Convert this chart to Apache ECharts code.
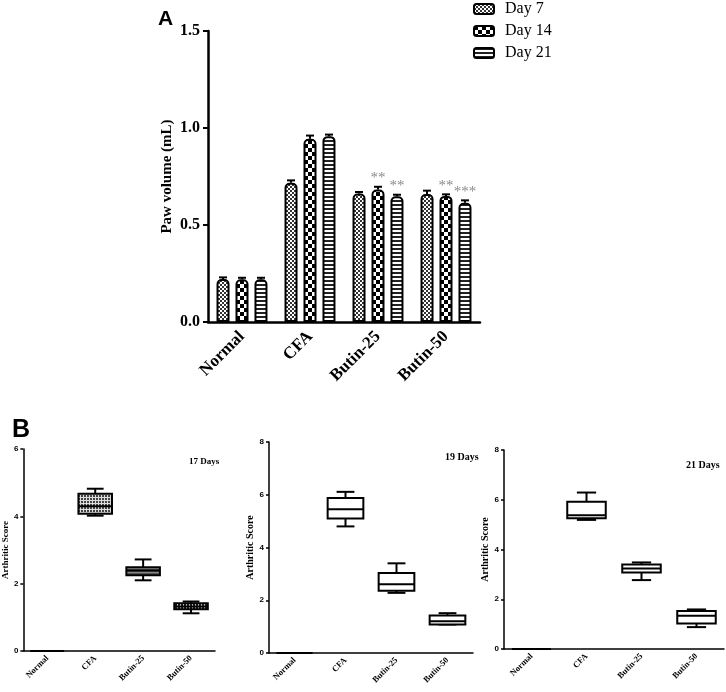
<!DOCTYPE html>
<html>
<head>
<meta charset="utf-8">
<script src="https://cdn.jsdelivr.net/npm/echarts@6/dist/echarts.min.js"></script>
<style>
  html, body { margin: 0; padding: 0; background: #fff; }
  #chart { width: 726px; height: 692px; }
</style>
</head>
<body>
<div id="chart"></div>
<script>
// panel A: paw volume, mean and error per group
var groups = ['Normal', 'CFA', 'Butin-25', 'Butin-50'];
var days = ['Day 7', 'Day 14', 'Day 21'];
var day7 = [0.222, 0.718, 0.662, 0.660];
var day7Err = [0.008, 0.012, 0.008, 0.017];
var day14 = [0.220, 0.945, 0.683, 0.650];
var day14Err = [0.008, 0.016, 0.014, 0.008];
var day21 = [0.220, 0.958, 0.648, 0.615];
var day21Err = [0.008, 0.008, 0.008, 0.012];
var day7Sig = ['', '', '', ''];
var day14Sig = ['', '', '**', '**'];
var day21Sig = ['', '', '**', '***'];

// panel B: arthritic score boxes [min, q1, median, q3, max]
var score17 = [[0, 0, 0, 0, 0], [4.02, 4.08, 4.30, 4.67, 4.82], [2.10, 2.25, 2.39, 2.49, 2.72], [1.12, 1.24, 1.32, 1.42, 1.47]];
var score19 = [[0, 0, 0, 0, 0], [4.80, 5.10, 5.45, 5.88, 6.11], [2.28, 2.36, 2.61, 3.03, 3.40], [1.08, 1.08, 1.20, 1.42, 1.51]];
var score21 = [[0, 0, 0, 0, 0], [5.19, 5.26, 5.38, 5.92, 6.29], [2.77, 3.08, 3.24, 3.40, 3.48], [0.88, 1.03, 1.34, 1.53, 1.59]];
var panelTitles = ['17 Days', '19 Days', '21 Days'];

var serif = '"Liberation Serif", "Times New Roman", serif';
var sans = '"Liberation Sans", Arial, sans-serif';

function pattern(size, draw, bg) {
    var c = document.createElement('canvas');
    c.width = size; c.height = size;
    var g = c.getContext('2d');
    g.fillStyle = bg || '#fff';
    g.fillRect(0, 0, size, size);
    draw(g);
    return { image: c, repeat: 'repeat' };
}
var fineChecker = pattern(4, function (g) { g.fillStyle = '#333'; g.fillRect(0, 0, 2, 2); g.fillRect(2, 2, 2, 2); });
var bigChecker = pattern(8, function (g) { g.fillStyle = '#000'; g.fillRect(0, 0, 4, 4); g.fillRect(4, 4, 4, 4); });
var hStripes = pattern(4, function (g) { g.fillStyle = '#222'; g.fillRect(0, 0, 4, 2); });
var dotFill = pattern(3, function (g) { g.fillStyle = '#444'; g.fillRect(0, 0, 2, 2); }, '#ddd');
var darkStripes = pattern(4, function (g) { g.fillStyle = '#888'; g.fillRect(0, 0, 4, 1); }, '#555');
var vTicks = pattern(3, function (g) { g.fillStyle = '#eee'; g.fillRect(0, 1, 1, 2); }, '#222');

function barSeries(name, vals, fill) {
    return {
        type: 'bar', name: name, xAxisIndex: 0, yAxisIndex: 0, data: vals,
        barWidth: 13, barGap: '46%',
        itemStyle: { color: fill, borderColor: '#000', borderWidth: 2, borderRadius: [4, 4, 0, 0] }
    };
}

function errSeries(vals, errs, sigs, slot) {
    return {
        type: 'custom', xAxisIndex: 0, yAxisIndex: 0, silent: true, z: 5,
        data: vals.map(function (v, i) { return [i, v, errs[i]]; }),
        renderItem: function (params, api) {
            var i = api.value(0), v = api.value(1), e = api.value(2);
            var base = api.coord([i, v]);
            var top = api.coord([i, v + e]);
            var x = base[0] + (slot - 1) * 19;
            var kids = [
                { type: 'line', shape: { x1: x, y1: base[1], x2: x, y2: top[1] }, style: { stroke: '#000', lineWidth: 2 } },
                { type: 'line', shape: { x1: x - 4, y1: top[1], x2: x + 4, y2: top[1] }, style: { stroke: '#000', lineWidth: 2 } }
            ];
            var s = sigs[params.dataIndex];
            if (s) {
                kids.push({ type: 'text', x: x, y: top[1] - 1,
                    style: { text: s, fill: '#8a8a8a', font: '15px ' + serif, align: 'center', verticalAlign: 'bottom' } });
            }
            return { type: 'group', children: kids };
        }
    };
}

function boxSeries(idx, rows, fills) {
    return {
        type: 'custom', xAxisIndex: idx, yAxisIndex: idx, silent: true,
        data: rows.map(function (r, i) { return [i].concat(r); }),
        encode: { x: 0, y: [1, 2, 3, 4, 5] },
        renderItem: function (params, api) {
            var i = api.value(0);
            var lo = api.coord([i, api.value(1)]);
            var q1 = api.coord([i, api.value(2)]);
            var md = api.coord([i, api.value(3)]);
            var q3 = api.coord([i, api.value(4)]);
            var hi = api.coord([i, api.value(5)]);
            var band = api.size([1, 0])[0];
            var w = band * 0.7, x = lo[0], c = w / 4;
            var st = { stroke: '#000', lineWidth: 2 };
            return { type: 'group', children: [
                { type: 'line', shape: { x1: x, y1: hi[1], x2: x, y2: q3[1] }, style: st },
                { type: 'line', shape: { x1: x, y1: lo[1], x2: x, y2: q1[1] }, style: st },
                { type: 'line', shape: { x1: x - c, y1: hi[1], x2: x + c, y2: hi[1] }, style: st },
                { type: 'line', shape: { x1: x - c, y1: lo[1], x2: x + c, y2: lo[1] }, style: st },
                { type: 'rect', shape: { x: x - w / 2, y: q3[1], width: w, height: q1[1] - q3[1] },
                  style: { fill: fills ? fills[params.dataIndex] : '#fff', stroke: '#000', lineWidth: 2 } },
                { type: 'line', shape: { x1: x - w / 2, y1: md[1], x2: x + w / 2, y2: md[1] }, style: st }
            ] };
        }
    };
}

var chart = echarts.init(document.getElementById('chart'), null, { renderer: 'canvas' });

var bGrids = [
    { left: 21, top: 449, width: 194, height: 202, max: 6, nameGap: 10, nameSize: 9 },
    { left: 269, top: 442, width: 204, height: 211, max: 8, nameGap: 12, nameSize: 10 },
    { left: 504, top: 450, width: 220, height: 199, max: 8, nameGap: 12, nameSize: 10 }
];

var grids = [{ left: 208, top: 31, width: 272, height: 291 }];
var xAxes = [{
    type: 'category', gridIndex: 0, data: groups,
    axisLine: { lineStyle: { color: '#000', width: 2.5 } },
    axisTick: { alignWithLabel: true, length: 5, lineStyle: { width: 2, color: '#000' } },
    axisLabel: { rotate: 45, margin: 12, color: '#000', fontFamily: serif, fontWeight: 'bold', fontSize: 17 }
}];
var yAxes = [{
    type: 'value', gridIndex: 0, min: 0, max: 1.5, interval: 0.5,
    name: 'Paw volume (mL)', nameLocation: 'middle', nameGap: 33,
    nameTextStyle: { color: '#000', fontFamily: serif, fontWeight: 'bold', fontSize: 15 },
    splitLine: { show: false },
    axisLine: { show: true, lineStyle: { color: '#000', width: 2.5 } },
    axisTick: { show: true, length: 5, lineStyle: { width: 2, color: '#000' } },
    axisLabel: { margin: 8, color: '#000', fontFamily: serif, fontWeight: 'bold', fontSize: 16,
        formatter: function (v) { return v.toFixed(1); } }
}];
bGrids.forEach(function (g, k) {
    grids.push({ left: g.left, top: g.top, width: g.width, height: g.height });
    xAxes.push({
        type: 'category', gridIndex: k + 1, data: groups,
        axisLine: { lineStyle: { color: '#000', width: 1.5 } },
        axisTick: { alignWithLabel: true, length: 3, lineStyle: { width: 1.5, color: '#000' } },
        axisLabel: { rotate: 45, margin: 6, color: '#000', fontFamily: serif, fontWeight: 'bold', fontSize: 8.5 }
    });
    yAxes.push({
        type: 'value', gridIndex: k + 1, min: 0, max: g.max, interval: 2,
        name: 'Arthritic Score', nameLocation: 'middle', nameGap: g.nameGap,
        nameTextStyle: { color: '#000', fontFamily: serif, fontWeight: 'bold', fontSize: g.nameSize },
        splitLine: { show: false },
        axisLine: { show: true, lineStyle: { color: '#000', width: 1.5 } },
        axisTick: { show: true, length: 3, lineStyle: { width: 1.5, color: '#000' } },
        axisLabel: { margin: 5, color: '#000', fontFamily: sans, fontWeight: 'bold', fontSize: 8 }
    });
});

var option = {
    animation: false,
    backgroundColor: '#fff',
    title: [
        { text: 'A', left: 153, top: 4, textStyle: { fontFamily: sans, fontWeight: 'bold', fontSize: 21, color: '#000' } },
        { text: 'B', left: 7, top: 413, textStyle: { fontFamily: sans, fontWeight: 'bold', fontSize: 25, color: '#000' } },
        { text: panelTitles[0], left: 184, top: 452, textStyle: { fontFamily: serif, fontWeight: 'bold', fontSize: 9, color: '#000' } },
        { text: panelTitles[1], left: 440, top: 447, textStyle: { fontFamily: serif, fontWeight: 'bold', fontSize: 10, color: '#000' } },
        { text: panelTitles[2], left: 681, top: 455, textStyle: { fontFamily: serif, fontWeight: 'bold', fontSize: 10, color: '#000' } }
    ],
    legend: {
        orient: 'vertical', left: 473, top: 1, padding: 0, itemWidth: 20, itemHeight: 10, itemGap: 6,
        data: days, selectedMode: false,
        textStyle: { fontFamily: serif, fontSize: 16, color: '#000', padding: [0, 0, 0, 6] }
    },
    grid: grids,
    xAxis: xAxes,
    yAxis: yAxes,
    series: [
        barSeries(days[0], day7, fineChecker),
        barSeries(days[1], day14, bigChecker),
        barSeries(days[2], day21, hStripes),
        errSeries(day7, day7Err, day7Sig, 0),
        errSeries(day14, day14Err, day14Sig, 1),
        errSeries(day21, day21Err, day21Sig, 2),
        boxSeries(1, score17, ['#fff', dotFill, darkStripes, vTicks]),
        boxSeries(2, score19, null),
        boxSeries(3, score21, null)
    ]
};
chart.setOption(option);
</script>
</body>
</html>
